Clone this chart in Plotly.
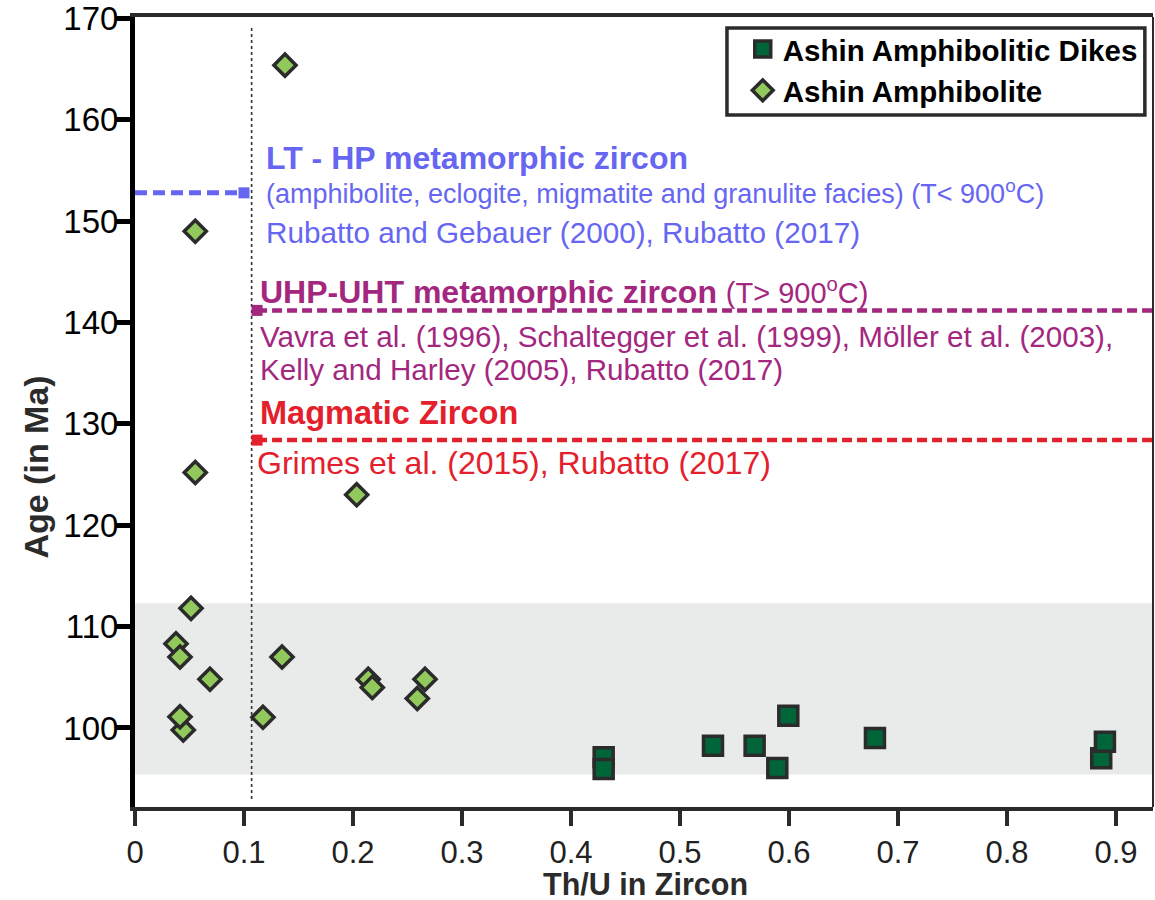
import plotly.graph_objects as go

# ---------------- data ----------------
amph_thu = [0.1376, 0.0553, 0.0553, 0.2034, 0.0514, 0.0376, 0.0413, 0.0688,
            0.1349, 0.0443, 0.0413, 0.1174, 0.2140, 0.2177, 0.2590, 0.2661]
amph_age = [165.4, 149.0, 125.2, 123.0, 111.8, 108.3, 107.0, 104.8,
            107.0, 99.8, 101.1, 101.05, 104.8, 104.0, 102.9, 104.8]

dike_thu = [0.430, 0.430, 0.5303, 0.5685, 0.5893, 0.5994, 0.6789, 0.8865, 0.8899]
dike_age = [97.1, 95.95, 98.25, 98.25, 96.05, 101.2, 99.0, 97.0, 98.65]

x_ticks = [0, 0.1, 0.2, 0.3, 0.4, 0.5, 0.6, 0.7, 0.8, 0.9]
x_ticktext = ["0", "0.1", "0.2", "0.3", "0.4", "0.5", "0.6", "0.7", "0.8", "0.9"]
y_ticks = [100, 110, 120, 130, 140, 150, 160, 170]
y_ticktext = ["100", "110", "120", "130", "140", "150", "160", "170"]

band_age = [95.4, 112.3]          # grey age band
thu_cut = 0.107                    # dotted vertical Th/U line
lt_hp_age = 152.8
uhp_age = 141.2
mag_age = 128.4

X_RANGE = [0, 0.934]
Y_RANGE = [92.2, 170.15]

BLUE = "#6666f2"
PURPLE = "#a3277f"
RED = "#e3202b"
EDGE = "#2b2b2b"
FONT = "Liberation Sans, Arial, sans-serif"

fig = go.Figure()

# reference lines
fig.add_trace(go.Scatter(x=[0, 0.1], y=[lt_hp_age, lt_hp_age], mode="lines",
                         line=dict(color=BLUE, width=5, dash="12px,6px"),
                         showlegend=False, hoverinfo="skip"))
fig.add_trace(go.Scatter(x=[0.1], y=[lt_hp_age], mode="markers",
                         marker=dict(symbol="square", size=11, color=BLUE),
                         showlegend=False, hoverinfo="skip"))
fig.add_trace(go.Scatter(x=[0.112, X_RANGE[1]], y=[uhp_age, uhp_age], mode="lines",
                         line=dict(color=PURPLE, width=4.5, dash="10px,5px"),
                         showlegend=False, hoverinfo="skip"))
fig.add_trace(go.Scatter(x=[0.112], y=[uhp_age], mode="markers",
                         marker=dict(symbol="square", size=11, color=PURPLE),
                         showlegend=False, hoverinfo="skip"))
fig.add_trace(go.Scatter(x=[0.112, X_RANGE[1]], y=[mag_age, mag_age], mode="lines",
                         line=dict(color=RED, width=4.5, dash="10px,5px"),
                         showlegend=False, hoverinfo="skip"))
fig.add_trace(go.Scatter(x=[0.112], y=[mag_age], mode="markers",
                         marker=dict(symbol="square", size=11, color=RED),
                         showlegend=False, hoverinfo="skip"))

# data
fig.add_trace(go.Scatter(x=dike_thu, y=dike_age, mode="markers",
                         name="Ashin Amphibolitic Dikes",
                         marker=dict(symbol="square", size=19, color="#00663a",
                                     line=dict(color=EDGE, width=3.5))))
fig.add_trace(go.Scatter(x=amph_thu, y=amph_age, mode="markers",
                         name="Ashin Amphibolite",
                         marker=dict(symbol="diamond", size=17, color="#92c95c",
                                     line=dict(color=EDGE, width=3.5))))

shapes = [
    dict(type="rect", xref="paper", yref="y", x0=0, x1=1, y0=band_age[0], y1=band_age[1],
         fillcolor="#e9ebea", line=dict(width=0), layer="below"),
    dict(type="line", xref="x", yref="paper", x0=thu_cut, x1=thu_cut, y0=0.01, y1=0.99,
         line=dict(color="#333333", width=1.6, dash="dot"), layer="below"),
    dict(type="line", xref="paper", yref="paper", x0=1, x1=1, y0=0, y1=1,
         line=dict(color=EDGE, width=2)),
    # legend frame
    dict(type="rect", xref="paper", yref="paper", x0=0.5815, x1=0.992, y0=0.876, y1=0.986,
         fillcolor="white", line=dict(color=EDGE, width=3.5), layer="above"),
]

ann = []
def add_text(x, y, text, color, size, bold=False):
    ann.append(dict(x=x, y=y, xref="x", yref="y", text=("<b>%s</b>" % text) if bold else text,
                    showarrow=False, xanchor="left", yanchor="middle",
                    font=dict(family=FONT, size=size, color=color)))

add_text(0.118, 156.2, "LT - HP metamorphic zircon", BLUE, 32, True)
add_text(0.118, 152.9, "(amphibolite, eclogite, migmatite and granulite facies) (T&lt; 900<sup>o</sup>C)", BLUE, 27)
add_text(0.118, 148.9, "Rubatto and Gebauer (2000), Rubatto (2017)", BLUE, 29.7)
add_text(0.113, 143.1, "<b>UHP-UHT metamorphic zircon</b> <span style='font-size:29px'>(T&gt; 900<sup>o</sup>C)</span>", PURPLE, 32)
add_text(0.113, 138.6, "Vavra et al. (1996), Schaltegger et al. (1999), Möller et al. (2003),", PURPLE, 29.6)
add_text(0.113, 135.4, "Kelly and Harley (2005), Rubatto (2017)", PURPLE, 29.6)
add_text(0.113, 131.1, "Magmatic Zircon", RED, 32.5, True)
add_text(0.110, 126.1, "Grimes et al. (2015), Rubatto (2017)", RED, 32)

ann.append(dict(x=-0.097, y=0.43, xref="paper", yref="paper", text="<b>Age (in Ma)</b>",
                textangle=-90, showarrow=False, xanchor="center", yanchor="middle",
                font=dict(family=FONT, size=34, color="#2b2b2b")))
ann.append(dict(x=0.501, y=-0.098, xref="paper", yref="paper", text="<b>Th/U in Zircon</b>",
                showarrow=False, xanchor="center", yanchor="middle",
                font=dict(family=FONT, size=30.5, color="#2b2b2b")))

fig.update_layout(
    width=1155, height=900,
    margin=dict(l=135, r=2, t=17, b=93, autoexpand=False),
    plot_bgcolor="white", paper_bgcolor="white",
    font=dict(family=FONT, color="black"),
    shapes=shapes, annotations=ann,
    legend=dict(x=0.597, y=0.992, xanchor="left", yanchor="top",
                bgcolor="rgba(0,0,0,0)", borderwidth=0,
                font=dict(family=FONT, size=29.5, color="black", weight="bold"),
                tracegroupgap=0),
    xaxis=dict(range=X_RANGE, tickvals=x_ticks, ticktext=x_ticktext, automargin=False,
               showline=True, linecolor=EDGE, linewidth=4, mirror=True,
               ticks="outside", ticklen=15, tickwidth=4, tickcolor=EDGE,
               showgrid=False, zeroline=False,
               tickfont=dict(family=FONT, size=31, color="#222222")),
    yaxis=dict(range=Y_RANGE, tickvals=y_ticks, ticktext=y_ticktext, automargin=False,
               showline=True, linecolor="black", linewidth=5, mirror=False,
               ticks="outside", ticklen=15, tickwidth=5, tickcolor="black",
               ticklabelstandoff=-10, ticklabeloverflow="allow",
               showgrid=False, zeroline=False,
               tickfont=dict(family=FONT, size=33, color="black")),
)

# remove the browser's default 8px page margin so the figure fills the window
fig.write_html("out.html", config={"displayModeBar": False},
               post_script="document.body.style.margin='0';")
